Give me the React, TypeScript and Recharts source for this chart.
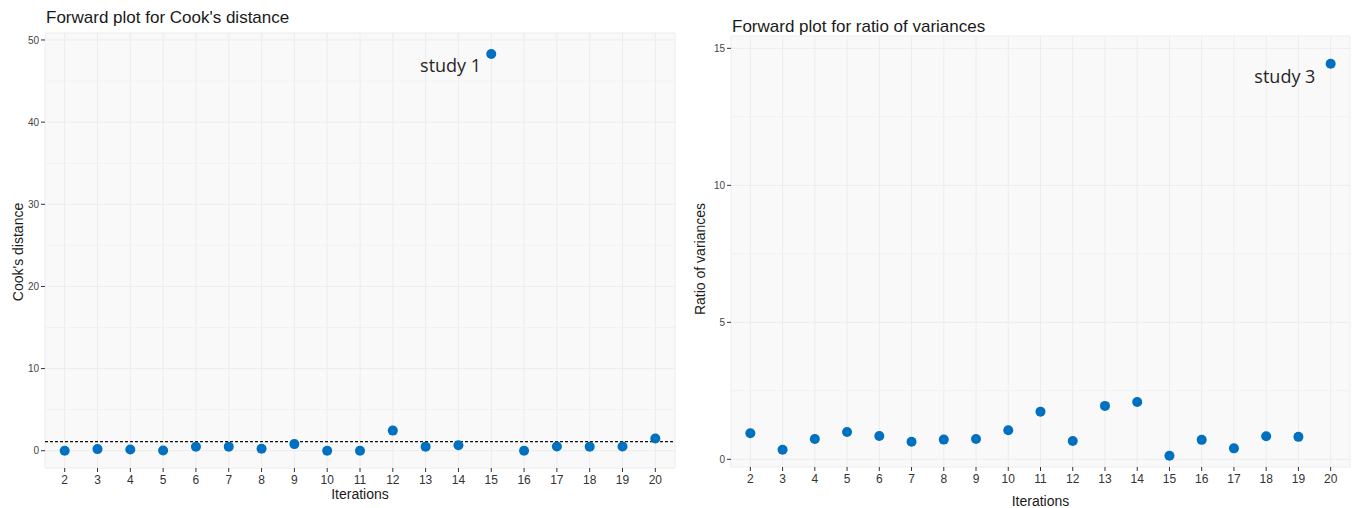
import { ScatterChart, Scatter, XAxis, YAxis, CartesianGrid, ReferenceLine, ReferenceDot, Label } from "recharts";

const iterations = [2, 3, 4, 5, 6, 7, 8, 9, 10, 11, 12, 13, 14, 15, 16, 17, 18, 19, 20];
const cooksDistance = [0, 0.2, 0.16, 0.03, 0.49, 0.5, 0.25, 0.81, 0, 0, 2.45, 0.5, 0.66, 48.3, 0, 0.52, 0.5, 0.52, 1.5];
const varianceRatio = [0.95, 0.35, 0.74, 1.0, 0.85, 0.64, 0.72, 0.74, 1.06, 1.74, 0.67, 1.95, 2.09, 0.13, 0.71, 0.4, 0.84, 0.82, 14.44];

const cooksTicks = [0, 10, 20, 30, 40, 50];
const cooksMinorTicks = [5, 15, 25, 35, 45];
const ratioTicks = [0, 5, 10, 15];
const ratioMinorTicks = [2.5, 7.5, 12.5];
const cooksThreshold = 1.1;

// where the "study n" notes sit (data units, text baseline centre)
const cooksNote = { x: 13.76, y: 46.14, text: "study 1" };
const ratioNote = { x: 18.58, y: 13.73, text: "study 3" };

const cooksData = iterations.map((it, i) => ({ iter: it, value: cooksDistance[i] }));
const ratioData = iterations.map((it, i) => ({ iter: it, value: varianceRatio[i] }));

const BLUE = "#0070C0";
const FONT = "'Liberation Sans', Arial, sans-serif";

const dot = (p: any) => <circle cx={p.cx} cy={p.cy} r={5} fill={BLUE} />;

const note = (text: string) => (p: any) => {
  const vb = p.viewBox || {};
  return (
    <text x={vb.x} y={vb.y} textAnchor="middle" fontFamily="'Open Sans', sans-serif" fontSize={18} fill="#262626">
      {text}
    </text>
  );
};

type PlotProps = {
  left: number;
  width: number;
  yWidth: number;
  top: number;
  xHeight: number;
  data: Array<{ iter: number; value: number }>;
  yDomain: [number, number];
  yTicks: number[];
  minorTicks: number[];
  yTitle: string;
  yTitlePos: { x: number; y: number };
  xTitleY: number;
  title: string;
  titleTop: number;
  note: { x: number; y: number; text: string };
  threshold?: number;
};

function ForwardPlot(props: PlotProps) {
  const plotCenterX = props.yWidth + (props.width - props.yWidth - 4) / 2;
  return (
    <div style={{ position: "absolute", left: props.left, top: 0, width: props.width, height: 508 }}>
      <div
        style={{
          position: "absolute",
          left: props.yWidth + 1,
          top: props.titleTop,
          fontSize: 17,
          lineHeight: "17px",
          color: "#1a1a1a",
          whiteSpace: "nowrap",
        }}
      >
        {props.title}
      </div>
      <ScatterChart
        width={props.width}
        height={508}
        margin={{ top: props.top, right: 4, bottom: 0, left: 0 }}
      >
        <CartesianGrid stroke="#ececec" fill="#f9f9f9" strokeWidth={1} />
        <XAxis
          type="number"
          dataKey="iter"
          domain={[1.4, 20.6]}
          ticks={iterations}
          interval={0}
          allowDataOverflow
          height={props.xHeight}
          axisLine={false}
          tickLine={{ stroke: "#333" }}
          tickSize={4}
          tickMargin={3}
          tick={{ fontSize: 12, fill: "#333" }}
        >
          <Label
            content={() => (
              <text x={plotCenterX} y={props.xTitleY} textAnchor="middle" fontSize={14} fill="#1a1a1a">
                Iterations
              </text>
            )}
          />
        </XAxis>
        <YAxis
          type="number"
          dataKey="value"
          domain={props.yDomain}
          ticks={props.yTicks}
          allowDataOverflow
          width={props.yWidth}
          axisLine={false}
          tickLine={{ stroke: "#333" }}
          tickSize={4}
          tickMargin={2}
          tick={{ fontSize: 10, fill: "#444" }}
        >
          <Label
            content={() => (
              <text
                x={props.yTitlePos.x}
                y={props.yTitlePos.y}
                transform={`rotate(-90 ${props.yTitlePos.x} ${props.yTitlePos.y})`}
                textAnchor="middle"
                fontSize={14}
                fill="#1a1a1a"
              >
                {props.yTitle}
              </text>
            )}
          />
        </YAxis>
        {props.minorTicks.map((v) => (
          <ReferenceLine key={v} y={v} stroke="#f1f1f1" strokeWidth={1} />
        ))}
        {props.threshold !== undefined && (
          <ReferenceLine y={props.threshold} stroke="#111" strokeWidth={1.3} strokeDasharray="3 2" />
        )}
        <Scatter data={props.data} shape={dot} isAnimationActive={false} />
        <ReferenceDot
          x={props.note.x}
          y={props.note.y}
          r={0}
          fill="none"
          stroke="none"
          label={{ content: note(props.note.text) }}
        />
      </ScatterChart>
    </div>
  );
}

export default function App() {
  return (
    <div
      style={{
        position: "absolute",
        left: 0,
        top: 0,
        width: 1354,
        height: 508,
        background: "#fff",
        fontFamily: FONT,
        overflow: "hidden",
      }}
    >
      <ForwardPlot
        left={0}
        width={679}
        yWidth={45}
        top={33}
        xHeight={40}
        data={cooksData}
        yDomain={[-2.1, 50.85]}
        yTicks={cooksTicks}
        minorTicks={cooksMinorTicks}
        yTitle="Cook's distance"
        yTitlePos={{ x: 23, y: 252 }}
        xTitleY={499}
        title="Forward plot for Cook's distance"
        titleTop={9}
        note={cooksNote}
        threshold={cooksThreshold}
      />
      <ForwardPlot
        left={680}
        width={674}
        yWidth={51}
        top={36}
        xHeight={41}
        data={ratioData}
        yDomain={[-0.28, 15.45]}
        yTicks={ratioTicks}
        minorTicks={ratioMinorTicks}
        yTitle="Ratio of variances"
        yTitlePos={{ x: 25, y: 259 }}
        xTitleY={506}
        title="Forward plot for ratio of variances"
        titleTop={18}
        note={ratioNote}
      />
    </div>
  );
}
